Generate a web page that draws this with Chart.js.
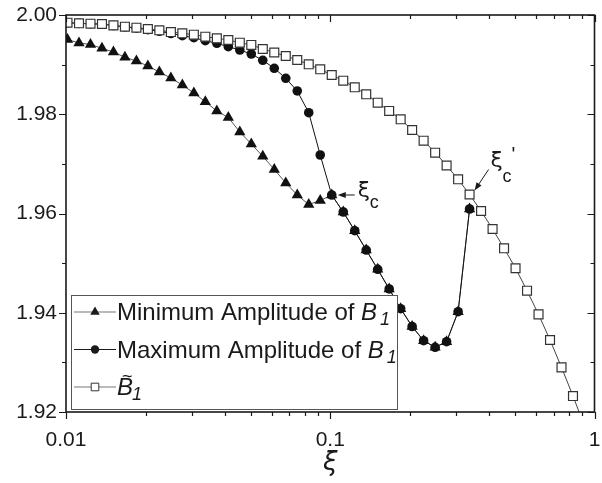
<!DOCTYPE html>
<html>
<head>
<meta charset="utf-8">
<script src="https://cdn.jsdelivr.net/npm/chart.js@4.4.0/dist/chart.umd.min.js"></script>
<style>
  html, body { margin: 0; padding: 0; background: #fff; }
  canvas { display: block; }
</style>
</head>
<body>
<canvas id="myChart" width="602" height="483"></canvas>
<script>
'use strict';
// xi grid (log spaced)
const xi = [
    0.01013, 0.01120, 0.01238, 0.01368, 0.01512, 0.01671, 0.01847, 0.02041, 0.02256, 0.02494,
    0.02756, 0.03047, 0.03367, 0.03722, 0.04114, 0.04547, 0.05026, 0.05555, 0.06140, 0.06787,
    0.07501, 0.08291, 0.09164, 0.1013, 0.1120, 0.1238, 0.1368, 0.1512, 0.1671, 0.1847,
    0.2041, 0.2256, 0.2494, 0.2756, 0.3047, 0.3367, 0.3722, 0.4114, 0.4547, 0.5026,
    0.5555, 0.6140, 0.6787, 0.7501, 0.8291, 0.9164
];
// B~1
const bTilde = [
    1.99845, 1.99833, 1.99825, 1.99819, 1.99792, 1.99764, 1.99744, 1.99718, 1.99692, 1.99657,
    1.99631, 1.99603, 1.99563, 1.99530, 1.99496, 1.99442, 1.99396, 1.99315, 1.99244, 1.99174,
    1.99093, 1.99007, 1.98906, 1.98791, 1.98676, 1.98543, 1.98402, 1.98233, 1.98066, 1.97898,
    1.97683, 1.97467, 1.97225, 1.96967, 1.96689, 1.96383, 1.96050, 1.95688, 1.95299, 1.94897,
    1.94444, 1.93968, 1.93451, 1.92900, 1.92322, 1.91718
];
// maximum amplitude of B1
const ampMax = [
    1.99845, 1.99831, 1.99823, 1.99815, 1.99788, 1.99758, 1.99734, 1.99704, 1.99672, 1.99627,
    1.99585, 1.99543, 1.99482, 1.99430, 1.99361, 1.99295, 1.99214, 1.99087, 1.98926, 1.98724,
    1.98469, 1.98031, 1.97179, 1.96373, 1.96030, 1.95653, 1.95264, 1.94876, 1.94479, 1.94082,
    1.93723, 1.93437, 1.93304, 1.93417, 1.94021, 1.96091
];
// minimum amplitude of B1 (joins the maximum past xi_c)
const ampMin = [
    1.99506, 1.99436, 1.99406, 1.99329, 1.99254, 1.99148, 1.99073, 1.98972, 1.98851, 1.98730,
    1.98589, 1.98428, 1.98253, 1.98065, 1.97935, 1.97642, 1.97401, 1.97153, 1.96887, 1.96615,
    1.96373, 1.96181, 1.96262, 1.96373, 1.96030, 1.95653, 1.95264, 1.94876, 1.94479, 1.94082,
    1.93723, 1.93437, 1.93304, 1.93417, 1.94021, 1.96091
];

const yTicks = ['1.92', '1.94', '1.96', '1.98', '2.00'];
const yMinorTicks = [1.93, 1.95, 1.97, 1.99];
const xTicks = ['0.01', '0.1', '1'];
const xMinorTicks = [0.02, 0.03, 0.04, 0.05, 0.06, 0.07, 0.08, 0.09, 0.2, 0.3, 0.4, 0.5, 0.6, 0.7, 0.8, 0.9];
const legendLabels = ['Minimum Amplitude of ', 'Maximum Amplitude of ', ''];
const xcIndex = 23;   // xi_c
const xcpIndex = 35;  // xi_c'

const SANS = '"Liberation Sans", Arial, sans-serif';
const GREEK = '"DejaVu Sans", sans-serif';
const INK = '#1a1a1a';

const toPoints = (ys) => ys.map((y, i) => ({ x: xi[i], y: y }));

// legend marker
const drawMarker = (ctx, style, x, y, r) => {
    ctx.beginPath();
    if (style === 'triangle') {
        ctx.moveTo(x, y - r);
        ctx.lineTo(x + r * 0.866, y + r / 2);
        ctx.lineTo(x - r * 0.866, y + r / 2);
        ctx.closePath();
        ctx.fillStyle = INK;
        ctx.fill();
    } else if (style === 'circle') {
        ctx.arc(x, y, r, 0, Math.PI * 2);
        ctx.fillStyle = INK;
        ctx.fill();
    } else {
        ctx.rect(x - r, y - r, 2 * r, 2 * r);
        ctx.fillStyle = '#fff';
        ctx.fill();
        ctx.lineWidth = 1;
        ctx.strokeStyle = '#333';
        ctx.stroke();
    }
}

const arrow = (ctx, x0, y0, x1, y1) => {
    const ang = Math.atan2(y1 - y0, x1 - x0);
    ctx.beginPath();
    ctx.moveTo(x0, y0);
    ctx.lineTo(x1 - Math.cos(ang) * 5, y1 - Math.sin(ang) * 5);
    ctx.lineWidth = 1;
    ctx.strokeStyle = INK;
    ctx.stroke();
    ctx.beginPath();
    ctx.moveTo(x1, y1);
    ctx.lineTo(x1 - Math.cos(ang) * 8 - Math.sin(ang) * 3, y1 - Math.sin(ang) * 8 + Math.cos(ang) * 3);
    ctx.lineTo(x1 - Math.cos(ang) * 8 + Math.sin(ang) * 3, y1 - Math.sin(ang) * 8 - Math.cos(ang) * 3);
    ctx.closePath();
    ctx.fillStyle = INK;
    ctx.fill();
}

// frame, ticks, labels, legend, annotations
const decorations = {
    id: 'decorations',
    afterDraw(chart) {
        const { ctx, chartArea: a, scales: { x, y } } = chart;
        ctx.save();

        // ticks
        ctx.strokeStyle = INK;
        ctx.lineWidth = 1.2;
        ctx.beginPath();
        const yTick = (v, len) => {
            const py = Math.round(y.getPixelForValue(v)) + 0.5;
            ctx.moveTo(a.left - len, py); ctx.lineTo(a.left, py);
            ctx.moveTo(a.right, py); ctx.lineTo(a.right - len, py);
        };
        const xTick = (v, len) => {
            const px = Math.round(x.getPixelForValue(v)) + 0.5;
            ctx.moveTo(px, a.bottom); ctx.lineTo(px, a.bottom + len);
            ctx.moveTo(px, a.top); ctx.lineTo(px, a.top + len);
        };
        yTicks.forEach(t => yTick(+t, 7));
        yMinorTicks.forEach(t => yTick(t, 4));
        xTicks.forEach(t => xTick(+t, 7));
        xMinorTicks.forEach(t => xTick(t, 4));
        ctx.stroke();

        // frame
        ctx.lineWidth = 1.6;
        ctx.strokeRect(a.left, a.top, a.right - a.left, a.bottom - a.top);

        // tick labels
        ctx.fillStyle = INK;
        ctx.font = '21px ' + SANS;
        ctx.textAlign = 'right';
        ctx.textBaseline = 'middle';
        yTicks.forEach(t => ctx.fillText(t, a.left - 9, y.getPixelForValue(+t)));
        ctx.textAlign = 'center';
        ctx.textBaseline = 'alphabetic';
        xTicks.forEach(t => ctx.fillText(t, x.getPixelForValue(+t), a.bottom + 34));

        // axis title
        ctx.font = 'italic 26px ' + GREEK;
        ctx.fillText('\u03BE', (a.left + a.right) / 2, a.bottom + 58);

        // legend
        const lx = 71, ly = 295, lw = 326, lh = 114;
        ctx.fillStyle = '#fff';
        ctx.fillRect(lx, ly, lw, lh);
        ctx.strokeStyle = '#555';
        ctx.lineWidth = 1;
        ctx.strokeRect(lx + 0.5, ly + 0.5, lw, lh);
        const styles = ['triangle', 'circle', 'rect'];
        const sizes = [5.5, 4.2, 3.8];
        chart.data.datasets.slice().reverse().forEach((ds, i) => {
            const cy = ly + 17 + i * 37.5;
            ctx.beginPath();
            ctx.moveTo(lx + 3, cy); ctx.lineTo(lx + 45, cy);
            ctx.strokeStyle = i === 1 ? INK : '#777';
            ctx.lineWidth = 1.2;
            ctx.stroke();
            drawMarker(ctx, styles[i], lx + 24, cy, sizes[i]);
            ctx.fillStyle = INK;
            ctx.textAlign = 'left';
            ctx.font = '24px ' + SANS;
            let tx = lx + 46;
            ctx.fillText(legendLabels[i], tx, cy + 8);
            tx += ctx.measureText(legendLabels[i]).width;
            ctx.font = 'italic 24px ' + SANS;
            ctx.fillText('B', tx, cy + 8);
            if (i === 2) {
                ctx.font = '18px ' + SANS;
                ctx.fillText('~', tx + 5, cy - 5);
            }
            tx += ctx.measureText('B').width + 3;
            ctx.font = 'italic 18px ' + SANS;
            ctx.fillText('1', tx, cy + 13);
        });

        // xi_c
        const cx = x.getPixelForValue(xi[xcIndex]);
        const cyc = y.getPixelForValue(ampMax[xcIndex]);
        arrow(ctx, cx + 23, cyc, cx + 6, cyc);
        ctx.fillStyle = INK;
        ctx.textAlign = 'left';
        ctx.font = '22px ' + GREEK;
        ctx.fillText('\u03BE', cx + 26, cyc + 2);
        ctx.font = '18px ' + SANS;
        ctx.fillText('c', cx + 38, cyc + 13);

        // xi_c'
        const px = x.getPixelForValue(xi[xcpIndex]);
        const py = y.getPixelForValue(bTilde[xcpIndex]);
        arrow(ctx, px + 19, py - 25, px + 5, py - 4);
        ctx.font = '22px ' + GREEK;
        ctx.fillText('\u03BE', px + 21, py - 27);
        ctx.font = '18px ' + SANS;
        ctx.fillText('c', px + 33, py - 12);
        ctx.font = '20px ' + SANS;
        ctx.fillText('\'', px + 42, py - 33);

        ctx.restore();
    }
};

const ctx = document.getElementById('myChart');
const myChart = new Chart(ctx.getContext('2d'), {
    type: 'scatter',
    data: {
        datasets: [{
            label: 'B1 tilde',
            data: toPoints(bTilde),
            showLine: true,
            order: 0,
            borderColor: '#444',
            borderWidth: 1,
            pointStyle: 'rect',
            pointRadius: 6.3,
            pointBackgroundColor: '#fff',
            pointBorderColor: '#333',
            pointBorderWidth: 1.2
        }, {
            label: 'Maximum Amplitude',
            data: toPoints(ampMax),
            showLine: true,
            order: 1,
            borderColor: '#111',
            borderWidth: 1,
            pointStyle: 'circle',
            pointRadius: 4.8,
            pointBackgroundColor: '#111',
            pointBorderColor: '#111',
            pointBorderWidth: 0
        }, {
            label: 'Minimum Amplitude',
            data: toPoints(ampMin),
            showLine: true,
            order: 2,
            borderColor: '#555',
            borderWidth: 1,
            pointStyle: 'triangle',
            pointRadius: 6.5,
            pointBackgroundColor: '#111',
            pointBorderColor: '#111',
            pointBorderWidth: 0
        }]
    },
    options: {
        responsive: false,
        animation: false,
        events: [],
        layout: {
            padding: { left: 66, right: 2, top: 15, bottom: 71 }
        },
        plugins: {
            legend: { display: false },
            tooltip: { enabled: false }
        },
        scales: {
            x: { type: 'logarithmic', min: 0.01, max: 1, display: false },
            y: { min: 1.92, max: 2.00, display: false }
        }
    },
    plugins: [decorations]
});
</script>
</body>
</html>
